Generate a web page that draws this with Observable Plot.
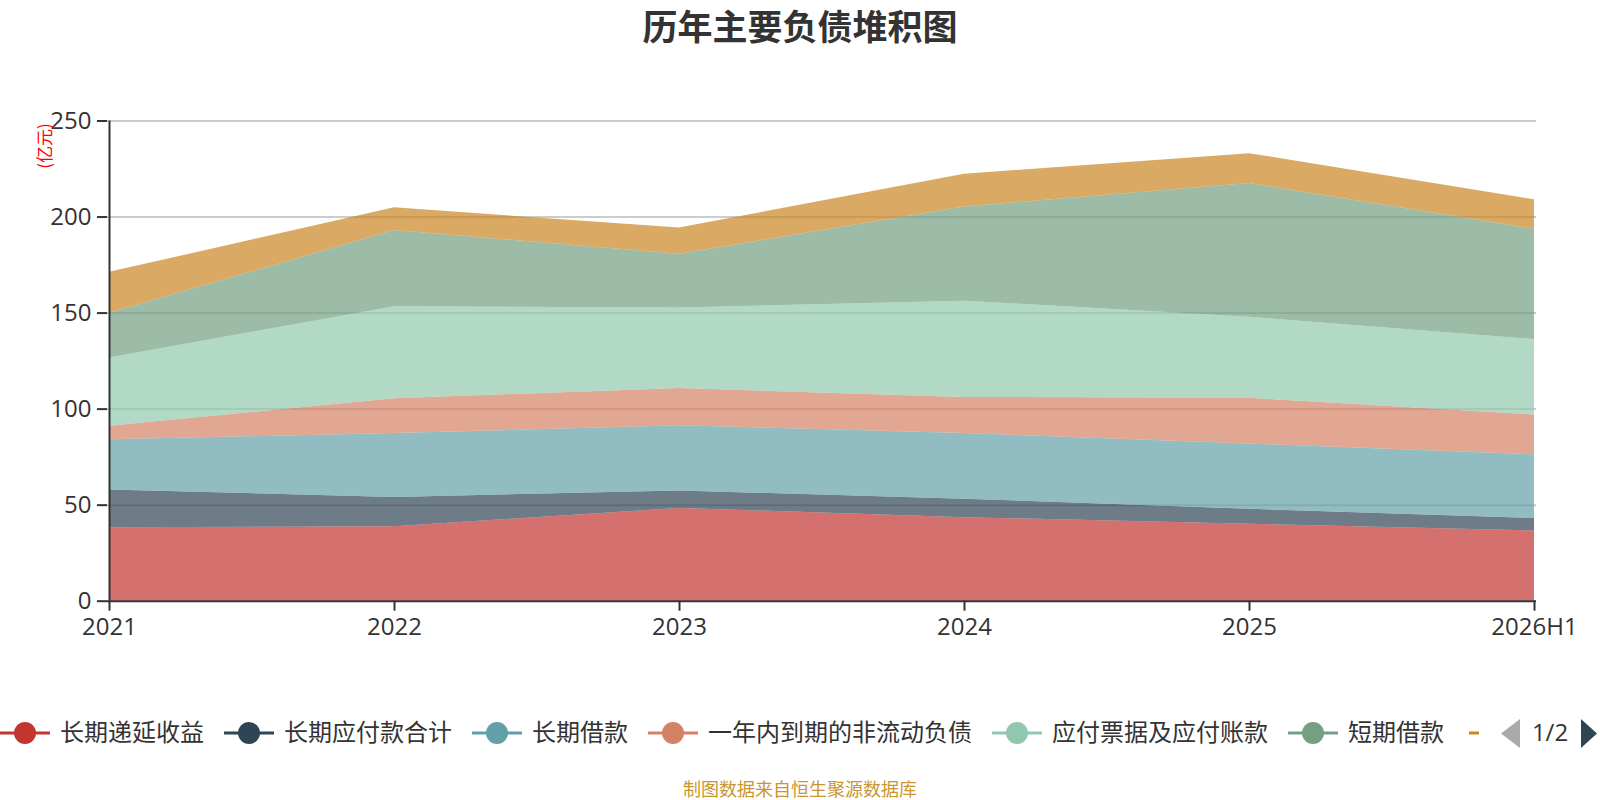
<!DOCTYPE html>
<html><head><meta charset="utf-8">
<script src="https://cdn.jsdelivr.net/npm/d3@7"></script>
<script src="https://cdn.jsdelivr.net/npm/@observablehq/plot@0.6"></script>
<style>
body{margin:0;background:#fff;}
#wrap{position:relative;width:1600px;height:800px;overflow:hidden;background:#fff;font-family:"Open Sans","Noto Sans CJK SC",sans-serif;}
#title{position:absolute;top:5px;left:0;width:1600px;text-align:center;font-size:35px;line-height:40px;font-weight:bold;color:#333;font-family:"Noto Sans CJK SC",sans-serif;}
#chart{position:absolute;top:0;left:0;}
#overlay{position:absolute;top:0;left:0;}
#caption{position:absolute;top:776px;left:0;width:1600px;text-align:center;font-size:18px;line-height:24px;color:#c9962f;font-family:"Noto Sans CJK SC",sans-serif;}
</style>
</head><body>
<div id="wrap">
  <div id="chart"></div>
  <div id="title"></div>
  <svg id="overlay" width="1600" height="800"></svg>
  <div id="caption"></div>
</div>
<script>
const titleText = "历年主要负债堆积图";
const captionText = "制图数据来自恒生聚源数据库";
const unitText = "(亿元)";
const years = ["2021", "2022", "2023", "2024", "2025", "2026H1"];
const yTicks = [0, 50, 100, 150, 200, 250];
const seriesNames = ["长期递延收益", "长期应付款合计", "长期借款", "一年内到期的非流动负债", "应付票据及应付账款", "短期借款", "应付债券"];
const seriesColors = ["#c23531", "#2f4554", "#61a0a8", "#d48265", "#91c7ae", "#749f83", "#ca8622"];
const deferredIncome   = [38.2, 38.7, 48.3, 43.5, 40.1, 36.6];
const longTermPayables = [19.7, 15.3, 9.1, 9.6, 7.8, 6.4];
const longTermLoans    = [26.1, 33.3, 33.9, 34.2, 33.9, 33.2];
const currentNonCurrent= [7.1, 18.1, 19.4, 18.8, 23.8, 20.7];
const notesPayable     = [35.5, 47.9, 41.9, 50.1, 42.2, 39.3];
const shortTermLoans   = [23.3, 39.7, 28.0, 49.0, 69.6, 57.4];
const bondsPayable     = [21.3, 11.8, 13.7, 17.1, 15.6, 15.4];
const seriesValues = [deferredIncome, longTermPayables, longTermLoans, currentNonCurrent, notesPayable, shortTermLoans, bondsPayable];

const rows = seriesNames.flatMap((name, i) => years.map((y, j) => ({year: y, series: name, value: seriesValues[i][j]})));

document.getElementById("title").textContent = titleText;
document.getElementById("caption").textContent = captionText;

const chart = Plot.plot({
  width: 1600,
  height: 660,
  marginLeft: 107,
  marginRight: 64,
  marginTop: 120.5,
  marginBottom: 59.3,
  style: {fontFamily: '"Open Sans","Noto Sans CJK SC",sans-serif', fontSize: "24px", color: "#333", background: "transparent", overflow: "visible"},
  x: {type: "point", domain: years, padding: 0},
  y: {domain: [0, 250]},
  color: {domain: seriesNames, range: seriesColors},
  marks: [
    Plot.gridY(yTicks.filter(d => d > 0), {stroke: "#ccc", strokeOpacity: 1, strokeWidth: 2}),
    Plot.areaY(rows, {x: "year", y: "value", fill: "series", fillOpacity: 0.7, curve: "linear"}),
    Plot.ruleX([years[0]], {stroke: "#333", strokeWidth: 2}),
    Plot.ruleY([0], {stroke: "#333", strokeWidth: 2}),
    Plot.axisY({ticks: yTicks, tickSize: 10, tickPadding: 6, fontSize: 24, color: "#333", strokeWidth: 2, label: null, tickFormat: d => String(d)}),
    Plot.axisX({tickSize: 10, tickPadding: 7, fontSize: 24, color: "#333", strokeWidth: 2, label: null})
  ]
});
document.getElementById("chart").appendChild(chart);

const svg = d3.select("#overlay");
// unit label
svg.append("text")
  .attr("transform", "translate(51,146) rotate(-90)")
  .attr("text-anchor", "middle")
  .attr("font-family", '"Noto Sans CJK SC",sans-serif')
  .attr("font-size", 17)
  .attr("fill", "#ff0000")
  .text(unitText);

// legend
svg.append("clipPath").attr("id", "legclip").append("rect").attr("x", 0).attr("y", 690).attr("width", 1480).attr("height", 90);
const leg = svg.append("g").attr("clip-path", "url(#legclip)");
const ly = 733;
let lx = 0;
seriesNames.forEach((name, i) => {
  const g = leg.append("g");
  g.append("line").attr("x1", lx).attr("x2", lx + 50).attr("y1", ly).attr("y2", ly)
    .attr("stroke", seriesColors[i]).attr("stroke-width", 3);
  g.append("circle").attr("cx", lx + 25).attr("cy", ly).attr("r", 11).attr("fill", seriesColors[i]);
  const t = g.append("text").attr("x", lx + 60).attr("y", ly).attr("dy", "0.35em")
    .attr("font-family", '"Noto Sans CJK SC",sans-serif').attr("font-size", 24).attr("fill", "#333")
    .text(name);
  const w = t.node().getComputedTextLength();
  if (i === seriesNames.length - 1) {
    t.remove();
    g.select("circle").remove();
    g.select("line").attr("x1", lx + 5).attr("x2", lx + 15);
  }
  lx += 60 + w + 20;
});

// pager
svg.append("path").attr("d", "M1520,719 L1501,733.5 L1520,748 Z").attr("fill", "#aaa");
svg.append("text").attr("x", 1550).attr("y", ly).attr("dy", "0.35em").attr("text-anchor", "middle")
  .attr("font-family", '"Open Sans",sans-serif').attr("font-size", 24).attr("fill", "#333").text("1/2");
svg.append("path").attr("d", "M1581,719 L1597,733.5 L1581,748 Z").attr("fill", "#2f4554");
</script>
</body></html>
